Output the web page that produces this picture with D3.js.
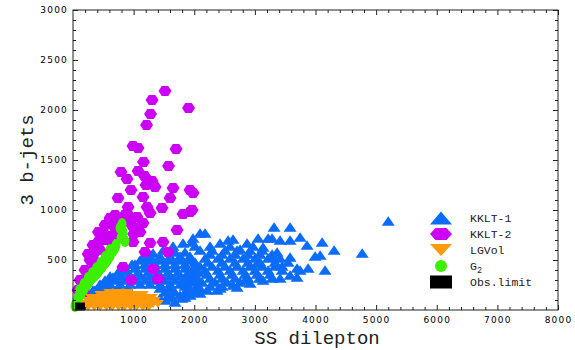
<!DOCTYPE html>
<html><head><meta charset="utf-8">
<script src="https://cdn.jsdelivr.net/npm/d3@7"></script>
<style>body{margin:0;background:#fff}</style>
</head><body>
<svg id="c" width="575" height="350"></svg>
<script>
// ---- data (x = SS dilepton, y = 3 b-jets) ----
const kklt1 = [
 [5200,890],[4770,570],[4307,600],[4109,680],[4076,550],[4158,400],[3993,540],[3878,420],
 [3746,730],[3861,650],[3696,420],[3696,330],[3581,830],[3317,830],[3581,700],[3416,700],
 [3284,720],[3218,720],[3581,530],[3581,350],[3449,440],[3366,580],[3251,530],[3416,320],
 [3135,630],[3135,300],[3036,470],[3086,330],[2921,270],[2871,670],[2756,610],[2838,300],
 [2706,230],[2640,710],[2640,250],[2426,670],[2426,220],[2376,200],[2261,640],[2211,200],
 [2178,770],[2096,170],[1964,680],[1848,130],[1683,80],[1518,100],
 [2096,600],[2294,600],[2508,600],[2706,600],[2921,600],[3119,600],
 [2178,520],[2393,520],[2591,520],[2805,520],[3003,520],[3218,520],[3416,520],
 [2096,440],[2294,440],[2508,440],[2706,440],[2921,440],[3119,440],[3333,440],
 [2013,360],[2211,360],[2426,360],[2624,360],[2838,360],[3036,360],[3251,360],
 [1931,280],[2129,280],[2343,280],[2541,280],[2756,280],
 [2261,560],[2459,560],[2673,560],[2888,560],[3086,560],[3284,560],
 [2013,480],[2228,480],[2459,480],[2673,480],[2888,480],[3086,480],[3333,480],[3548,480],
 [1964,400],[2178,400],[2393,400],[2591,400],[2805,400],[3003,400],[3218,400],[3449,400],[3746,400],
 [1848,320],[2046,320],[2261,320],[2459,320],[2673,320],[2888,320],[3086,320],[3284,320],
 [1848,240],[2046,240],[2261,240],[2459,240],
 [2013,640],[2591,640],[2970,640],[2558,700],[3053,720],
 [330,200],[495,260],[660,330],[825,400],[974,460],[1155,530],[1320,570],[1485,600],
 [1650,640],[1815,670],[1980,720],[2096,770],
 [1106,500],[1271,500],[1436,500],[1601,500],[1766,500],[1931,500],
 [858,420],[1023,420],[1188,420],[1353,420],[1518,420],[1683,420],[1848,420],[2013,420],
 [611,340],[776,340],[941,340],[1106,340],[1271,340],[1436,340],[1601,340],[1766,340],[1931,340],
 [446,260],[611,260],[776,260],[941,260],[1106,260],[1271,260],[1436,260],[1601,260],[1766,260],
 [1518,180],[1683,180],[1848,180],[2013,180],[363,200],[528,200],
 [1436,120],[1634,120],[1799,120],
 [1023,460],[1188,460],[1353,460],[1518,460],[1683,460],[1848,460],
 [743,380],[908,380],[1073,380],[1238,380],[1403,380],[1568,380],[1733,380],[1898,380],[2063,380],
 [528,300],[693,300],[858,300],[1023,300],[1188,300],[1353,300],[1518,300],[1683,300],[1848,300],[2013,300],
 [413,220],[578,220],[743,220],[908,220],[1436,220],[1601,220],[1931,220],[2096,220],
 [1271,540],[1436,540],[1601,540],[1766,540],[1931,540],[1683,580],[1848,580],
 [1601,150],[1766,150],[1931,150]
];
const kklt2 = [
 [1518,2190],[1304,2100],[1906,2020],[1279,1960],[1213,1850],[990,1640],[1073,1620],[1700,1610],
 [1163,1480],[1576,1440],[792,1380],[1073,1390],[891,1310],[1180,1340],[1304,1290],[1205,1250],
 [1353,1230],[957,1200],[1650,1220],[1931,1200],[1980,1170],[743,1120],[1155,1130],[1601,1120],
 [908,1030],[1221,1030],[1469,1020],[1964,1000],[1815,960],[891,970],[1056,930],[1271,970],
 [1155,870],[1106,780],[1716,800],[990,830],[578,870],[495,780],[413,680],[990,680],
 [1271,670],[1485,680],[1188,580],[1568,580],[363,580],[281,500],[825,430],[1320,410],
 [198,400],[116,300],[957,300],[1403,310],[83,200],[1931,980],
 [149,220],[215,300],[446,600],[528,700],[611,740],[693,820],[776,880],[858,950],
 [660,650],[743,750],[363,480],[314,400],[248,280],[182,180],
 [693,950],[528,850],[611,920],[940,880],[1000,760],[420,780],[330,650],[250,560]
];
const lgvol = [
 [600,170],[700,170],[800,170],[900,170],
 [450,150],[550,150],[650,150],[750,150],[850,150],[950,150],[1050,150],[1150,150],
 [300,120],[400,120],[500,120],[600,120],[700,120],[800,120],[900,120],[1000,120],[1100,120],[1200,120],[1300,120],
 [250,90],[350,90],[450,90],[550,90],[650,90],[750,90],[850,90],[950,90],[1050,90],[1150,90],[1250,90],[1350,90],
 [220,60],[320,60],[420,60],[520,60],[620,60],[720,60],[820,60],[920,60],[1020,60],[1120,60],[1220,60],[1320,60],[1400,60],
 [250,30],[350,30],[450,30],[550,30],[650,30],[750,30],[850,30],[950,30],[1050,30],[1150,30],[1250,30]
];
const g2 = [
 [809,860],[825,780],[858,690],[710,650],[660,590],[611,540],[545,480],[479,430],[413,380],
 [347,340],[281,300],[231,250],[182,210],[132,160],[83,120],[50,70],
 [693,620],[578,510],[512,460],[446,410],[380,360],[314,320],[248,270],[149,190],[99,140],
 [33,40],[776,820],[792,720],[610,600],[530,530],[460,470],[390,420],[320,370],[250,320],[180,260],[110,200]
];
const obsLimit = [[115,35]];
const xTicks = [1000,2000,3000,4000,5000,6000,7000,8000];
const yTicks = [500,1000,1500,2000,2500,3000];
const legendLabels = ["KKLT-1","KKLT-2","LGVol","G2","Obs.limit"];
const colors = {kklt1:"#0a6cf8", kklt2:"#cc00f5", lgvol:"#ff9a0a", g2:"#3cf000", obs:"#000000"};

// ---- drawing ----
const svg = d3.select("#c");
const L=73,R=558,T=10,B=310;
const x = d3.scaleLinear().domain([0,8000]).range([L,R]);
const y = d3.scaleLinear().domain([0,3000]).range([B,T]);

const tri = (w,h)=>`M${-w/2},${h/2}L${w/2},${h/2}L0,${-h/2}Z`;
const itri = (w,h)=>`M${-w/2},${-h/2}L${w/2},${-h/2}L0,${h/2}Z`;
const hex = (w,h)=>`M${-w/2},0L${-w/4},${-h/2}L${w/4},${-h/2}L${w/2},0L${w/4},${h/2}L${-w/4},${h/2}Z`;

const plot = svg.append("g");
plot.append("g").selectAll("path").data(kklt1).join("path")
  .attr("transform",d=>`translate(${x(d[0])},${y(d[1])})`).attr("d",tri(13,9.5)).attr("fill",colors.kklt1);
plot.append("g").selectAll("path").data(kklt2).join("path")
  .attr("transform",d=>`translate(${x(d[0])},${y(d[1])})`).attr("d",hex(13,10)).attr("fill",colors.kklt2);
plot.append("g").selectAll("path").data(lgvol).join("path")
  .attr("transform",d=>`translate(${x(d[0])},${y(d[1])})`).attr("d",itri(12,8)).attr("fill",colors.lgvol);
plot.append("g").selectAll("ellipse").data(g2).join("ellipse")
  .attr("cx",d=>x(d[0])).attr("cy",d=>y(d[1])).attr("rx",4.5).attr("ry",6).attr("fill",colors.g2);
plot.append("g").selectAll("rect").data(obsLimit).join("rect")
  .attr("x",d=>x(d[0])-5).attr("y",d=>y(d[1])-4).attr("width",10).attr("height",8).attr("fill",colors.obs);

// axes / frame
const xMinor = d3.range(200,8000,200).filter(v=>v%1000!==0);
const yMinor = d3.range(100,3000,100).filter(v=>v%500!==0);
const axStyle = g=>{g.select(".domain").remove(); g.selectAll("line").attr("stroke","#222");};
const tickFont = g=>g.selectAll("text").attr("font-family","DejaVu Sans").attr("font-size",9).attr("letter-spacing","1.2px").attr("fill","#000");

svg.append("g").attr("transform",`translate(0,${B})`).call(d3.axisBottom(x).tickValues(xMinor).tickSize(-3).tickFormat("")).call(axStyle);
svg.append("g").attr("transform",`translate(0,${B})`).call(d3.axisBottom(x).tickValues(xTicks).tickSizeInner(-5).tickSizeOuter(0).tickPadding(7).tickFormat(d3.format("d"))).call(axStyle).call(tickFont);
svg.append("g").attr("transform",`translate(0,${T})`).call(d3.axisTop(x).tickValues(xMinor).tickSize(-3).tickFormat("")).call(axStyle);
svg.append("g").attr("transform",`translate(0,${T})`).call(d3.axisTop(x).tickValues(xTicks).tickSize(-5).tickFormat("")).call(axStyle);
svg.append("g").attr("transform",`translate(${L},0)`).call(d3.axisLeft(y).tickValues(yMinor).tickSize(-3).tickFormat("")).call(axStyle);
svg.append("g").attr("transform",`translate(${L},0)`).call(d3.axisLeft(y).tickValues(yTicks).tickSizeInner(-5).tickSizeOuter(0).tickPadding(5).tickFormat(d3.format("d"))).call(axStyle).call(tickFont);
svg.append("g").attr("transform",`translate(${R},0)`).call(d3.axisRight(y).tickValues(yMinor).tickSize(-3).tickFormat("")).call(axStyle);
svg.append("g").attr("transform",`translate(${R},0)`).call(d3.axisRight(y).tickValues(yTicks).tickSize(-5).tickFormat("")).call(axStyle);
svg.append("rect").attr("x",L).attr("y",T).attr("width",R-L).attr("height",B-T).attr("fill","none").attr("stroke","#222").attr("stroke-width",1);

// axis titles
svg.append("text").attr("x",317).attr("y",344).attr("text-anchor","middle")
  .attr("font-family","Liberation Mono").attr("font-size",19).attr("fill","#222").text("SS dilepton");
svg.append("text").attr("transform","translate(33,160) rotate(-90)").attr("text-anchor","middle")
  .attr("font-family","Liberation Mono").attr("font-size",19).attr("fill","#222").text("3 b-jets");

// legend
const lg = svg.append("g");
const lx = 441, rows = [218,234,250,266,282];
lg.append("path").attr("transform",`translate(${lx},${rows[0]})`).attr("d",tri(22,13)).attr("fill",colors.kklt1);
lg.append("path").attr("transform",`translate(${lx},${rows[1]})`).attr("d",hex(22,12)).attr("fill",colors.kklt2);
lg.append("path").attr("transform",`translate(${lx},${rows[2]})`).attr("d",itri(22,12)).attr("fill",colors.lgvol);
lg.append("circle").attr("cx",lx).attr("cy",rows[3]).attr("r",6).attr("fill",colors.g2);
lg.append("rect").attr("x",lx-11).attr("y",rows[4]-6.5).attr("width",22).attr("height",13).attr("fill",colors.obs);
legendLabels.forEach((s,i)=>{
  const t = lg.append("text").attr("x",470).attr("y",rows[i]+4).attr("font-family","Liberation Mono")
    .attr("font-size",11.5).attr("fill","#222");
  if(s==="G2"){ t.append("tspan").text("G"); t.append("tspan").attr("dy",3).attr("font-size",8.5).text("2"); }
  else t.text(s);
});
</script>
</body></html>
